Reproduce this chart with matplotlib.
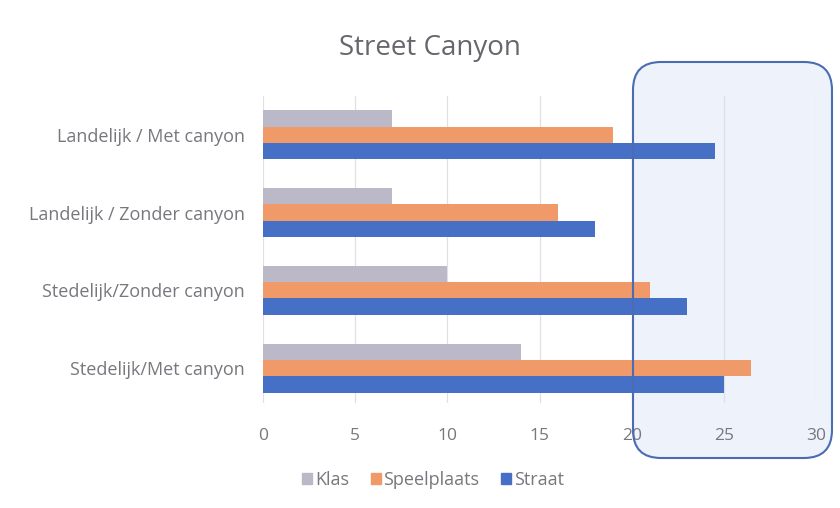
import matplotlib.pyplot as plt
import matplotlib.patches as mpatches
import numpy as np

plt.rcParams["font.family"] = ["Open Sans", "DejaVu Sans"]

# categorieen van onder naar boven (zoals Excel ze tekent)
categories = [
    "Stedelijk/Met canyon",
    "Stedelijk/Zonder canyon",
    "Landelijk / Zonder canyon",
    "Landelijk / Met canyon",
]
series = ["Klas", "Speelplaats", "Straat"]
klas = [14, 10, 7, 7]
speelplaats = [26.5, 21, 16, 19]
straat = [25, 23, 18, 24.5]

COLORS = {
    "Klas": "#bbb8c8",
    "Speelplaats": "#ef9a68",
    "Straat": "#4670c6",
}
TEXT = "#77777d"

fig = plt.figure(figsize=(8.4, 5.08), dpi=100)

# afgeronde markering rond 20-30 (vulling achter de grafiek)
bx, by = 633 / 840, 1 - 458 / 508
bw, bh = (832 - 633) / 840, (458 - 62) / 508
box_style = dict(boxstyle="round,pad=0,rounding_size=%f" % (28 / 840),
                 mutation_aspect=840 / 508, transform=fig.transFigure)
fill = mpatches.FancyBboxPatch((bx, by), bw, bh, facecolor="#eef3fb",
                               edgecolor="none", zorder=-5, **box_style)
fig.add_artist(fill)

ax = fig.add_axes([263 / 840, 1 - 403 / 508, (816 - 263) / 840, (403 - 96) / 508])
ax.set_facecolor("none")
ax.set_zorder(1)

y = np.arange(len(categories))
h = 0.21
values = {"Klas": klas, "Speelplaats": speelplaats, "Straat": straat}
offsets = {"Klas": h, "Speelplaats": 0.0, "Straat": -h}
for name in series:
    ax.barh(y + offsets[name], values[name], height=h, color=COLORS[name],
            label=name, zorder=2)

ax.set_xlim(0, 30)
ax.set_ylim(-0.45, 3.5)
ax.set_xticks(range(0, 31, 5))
ax.set_yticks(y)
ax.set_yticklabels(categories)
ax.tick_params(axis="x", length=0, pad=18, labelsize=12.5, labelcolor=TEXT)
ax.tick_params(axis="y", length=0, pad=13, labelsize=13, labelcolor=TEXT)
ax.grid(axis="x", color="#e0e0e4", linewidth=0.9, zorder=0)
for side in ax.spines.values():
    side.set_visible(False)

fig.text(430 / 840, 1 - 48 / 508, "Street Canyon", ha="center", va="center",
         fontsize=20, color="#66666c")

handles = [mpatches.Patch(color=COLORS[n], label=n) for n in series]
fig.legend(handles=handles, loc="center", bbox_to_anchor=(433 / 840, 1 - 480 / 508),
           ncol=3, frameon=False, fontsize=13, labelcolor=TEXT,
           handlelength=0.55, handleheight=0.55, handletextpad=0.15, columnspacing=1.2)

edge = mpatches.FancyBboxPatch((bx, by), bw, bh, facecolor="none",
                               edgecolor="#4a6cb3", linewidth=1.5, zorder=10,
                               **box_style)
fig.add_artist(edge)

fig.savefig("out.png", dpi=100)
